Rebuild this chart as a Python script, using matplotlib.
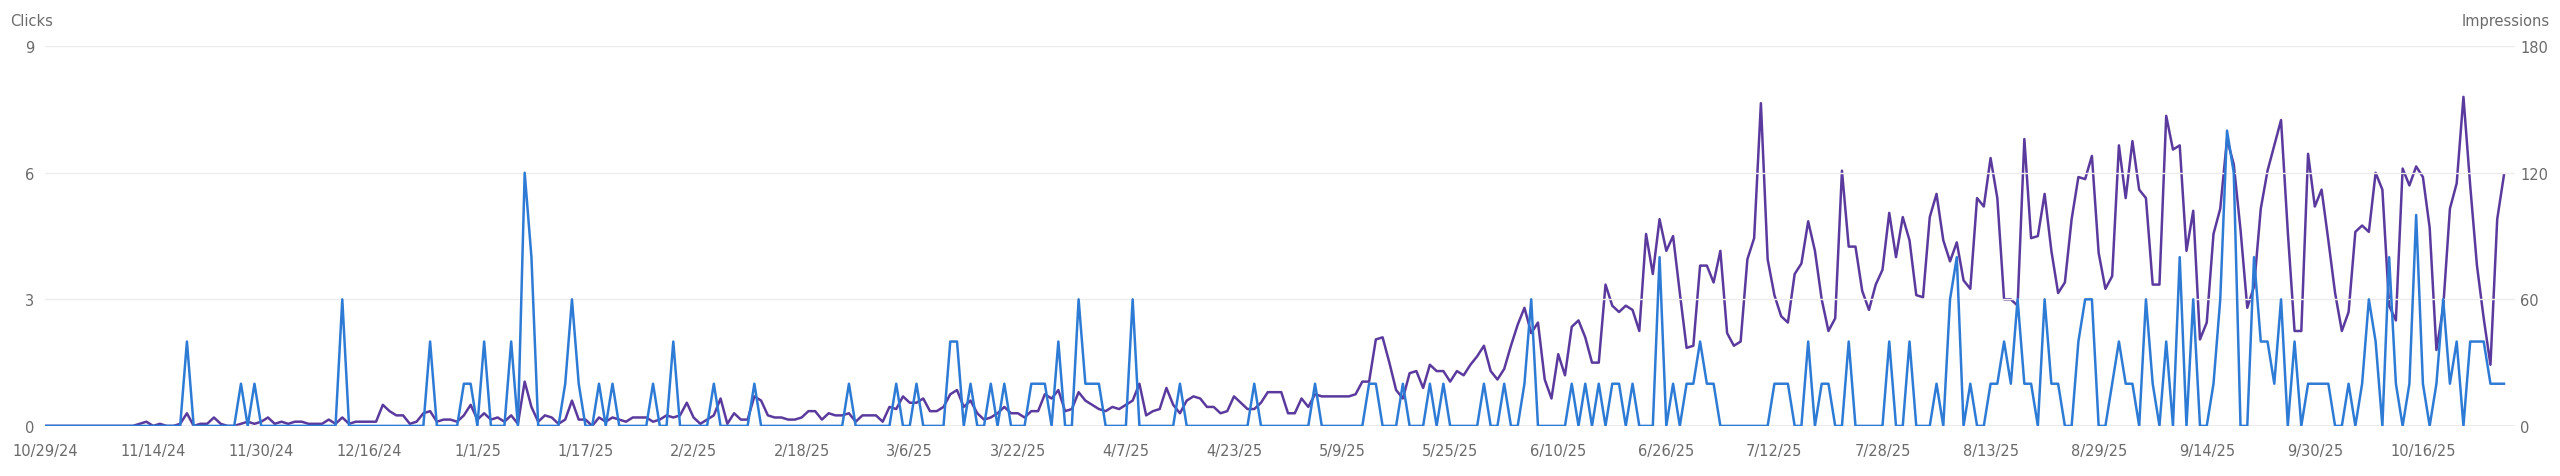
import numpy as np
import pandas as pd
import matplotlib
matplotlib.use("Agg")
import matplotlib.pyplot as plt
import matplotlib.dates as mdates

dates = pd.date_range("2024-10-29", "2025-10-28", freq="D")

# daily clicks (non-zero days only)
click_days = {21: 2, 29: 1, 31: 1, 44: 3, 57: 2, 62: 1, 63: 1, 65: 2, 69: 2, 71: 6, 72: 4,
              77: 1, 78: 3, 79: 1, 82: 1, 84: 1, 90: 1, 93: 2, 99: 1, 105: 1, 119: 1,
              126: 1, 129: 1, 134: 2, 135: 2, 137: 1, 140: 1, 142: 1, 146: 1, 147: 1,
              148: 1, 150: 2, 153: 3, 154: 1, 155: 1, 156: 1, 161: 3, 168: 1, 179: 1,
              188: 1, 196: 1, 197: 1, 201: 1, 205: 1, 207: 1, 213: 1, 216: 1, 219: 1,
              220: 3, 226: 1, 228: 1, 230: 1, 232: 1, 233: 1, 235: 1, 239: 4, 241: 1,
              243: 1, 244: 1, 245: 2, 246: 1, 247: 1, 256: 1, 257: 1, 258: 1, 261: 2,
              263: 1, 264: 1, 267: 2, 273: 2, 276: 2}
clicks_tail = [0, 0, 1, 0, 3, 4, 0, 1, 0, 0, 1, 1, 2, 1, 3, 1, 1, 0, 3, 1, 1, 0, 0, 2, 3,
               3, 0, 0, 1, 2, 1, 1, 0, 3, 1, 0, 2, 0, 4, 0, 3, 0, 0, 1, 3, 7, 6, 0, 0, 4,
               2, 2, 1, 3, 0, 2, 0, 1, 1, 1, 1, 0, 0, 1, 0, 1, 3, 2, 0, 4, 1, 0, 1, 5, 1,
               0, 1, 3, 1, 2, 0, 2, 2, 2, 1, 1, 1]  # days 278..364

impressions = [0] * 14 + [
    1, 2, 0, 1, 0, 0, 1, 6, 0, 1, 1, 4, 1, 0, 0, 1, 2, 1, 2, 4, 1, 2, 1, 2, 2, 1, 1, 1,
    3, 1, 4, 1, 2, 2, 2, 2, 10, 7, 5, 5, 1, 2, 6, 7, 2, 3, 3, 2, 5, 10, 3, 6, 3, 4, 2, 5,
    1, 21, 9, 2, 5, 4, 1, 3, 12, 3, 3, 0, 4, 2, 4, 3, 2, 4, 4,
    4, 2, 3, 5, 4, 5, 11, 4, 1, 3, 5, 13, 1, 6, 3, 3, 14, 12, 5, 4, 4, 3, 3, 4, 7, 7, 3,
    6, 5, 5, 6, 2, 5, 5, 5, 2, 9, 8, 14, 11, 11, 13, 7, 7, 9, 15, 17, 9, 12, 6, 3, 4, 6,
    9, 6, 6, 4, 7, 7, 15, 13, 17, 7, 8, 16, 12, 10, 8, 7, 9, 8, 10, 12, 20, 5, 7, 8, 18,
    10, 6, 12, 14, 13, 9, 9, 6, 7, 14, 11, 8, 8, 11, 16, 16,
    16, 6, 6, 13, 9, 15, 14, 14, 14, 14, 14, 15, 21, 21, 41, 42, 30, 17, 13, 25, 26, 18,
    29, 26, 26, 21, 26, 24, 29, 33, 38, 26, 22, 27, 38, 48, 56, 44, 49, 22, 13, 34, 24,
    47, 50, 42, 30, 30, 67, 57, 54, 57, 55, 45, 91, 72, 98, 83, 90, 63, 37, 38, 76, 76,
    68, 83, 44, 38, 40, 79, 89, 153, 79, 62, 52, 49, 72, 77, 97, 83, 60, 45, 51, 121, 85,
    85, 64, 55, 67, 74, 101, 80, 99, 88, 62,
    61, 99, 110, 88, 78, 87, 69, 65, 108, 104, 127, 108, 60, 60, 57, 136, 89, 90, 110, 83,
    63, 68, 98, 118, 117, 128, 82, 65, 71, 133, 108, 135, 112, 108, 67, 67, 147, 131, 133,
    83, 102, 41, 49, 91, 103, 136, 124, 93, 56, 66, 103, 121, 133, 145, 92, 45, 45, 129,
    104, 112, 88, 63, 45, 54, 92, 95, 92, 120, 112, 57, 50, 122, 114, 123, 118, 94, 36, 56,
    103, 115, 156, 114, 76, 51, 29, 98, 119]

clicks = [click_days.get(d, 0) for d in range(278)] + clicks_tail

fig = plt.figure(figsize=(25.6, 4.77), dpi=100)
ax = fig.add_axes([0.0176, 0.105, 0.965, 0.796])
ax2 = ax.twinx()

ax.plot(dates, clicks, color="#2e7bd6", lw=1.8, zorder=3)
ax2.plot(dates, impressions, color="#5b3a9e", lw=1.8, zorder=2)
ax.set_zorder(ax2.get_zorder() + 1)
ax.patch.set_visible(False)

ax.set_ylim(0, 9)
ax2.set_ylim(0, 180)
ax.set_yticks([0, 3, 6, 9])
ax2.set_yticks([0, 60, 120, 180])
ax.set_xlim(dates[0], dates[0] + pd.Timedelta(days=365.7))

ticks = pd.date_range("2024-10-29", periods=23, freq="16D")
ax.set_xticks(ticks)
ax.set_xticklabels([f"{d.month}/{d.day}/{d.strftime('%y')}" for d in ticks])

ax.grid(axis="y", color="#ececec", lw=1)
ax.axhline(0, color="#9e9e9e", lw=1, zorder=1)
for a in (ax, ax2):
    for s in a.spines.values():
        s.set_visible(False)
    a.tick_params(length=0, labelsize=10.5, colors="#6b6b6b")
ax.tick_params(axis="x", pad=12)
ax.tick_params(axis="y", pad=8)

fig.text(0.004, 0.955, "Clicks", fontsize=10.5, color="#6b6b6b", va="center")
fig.text(0.996, 0.955, "Impressions", fontsize=10.5, color="#6b6b6b", va="center", ha="right")

fig.savefig("out.png", dpi=100)
